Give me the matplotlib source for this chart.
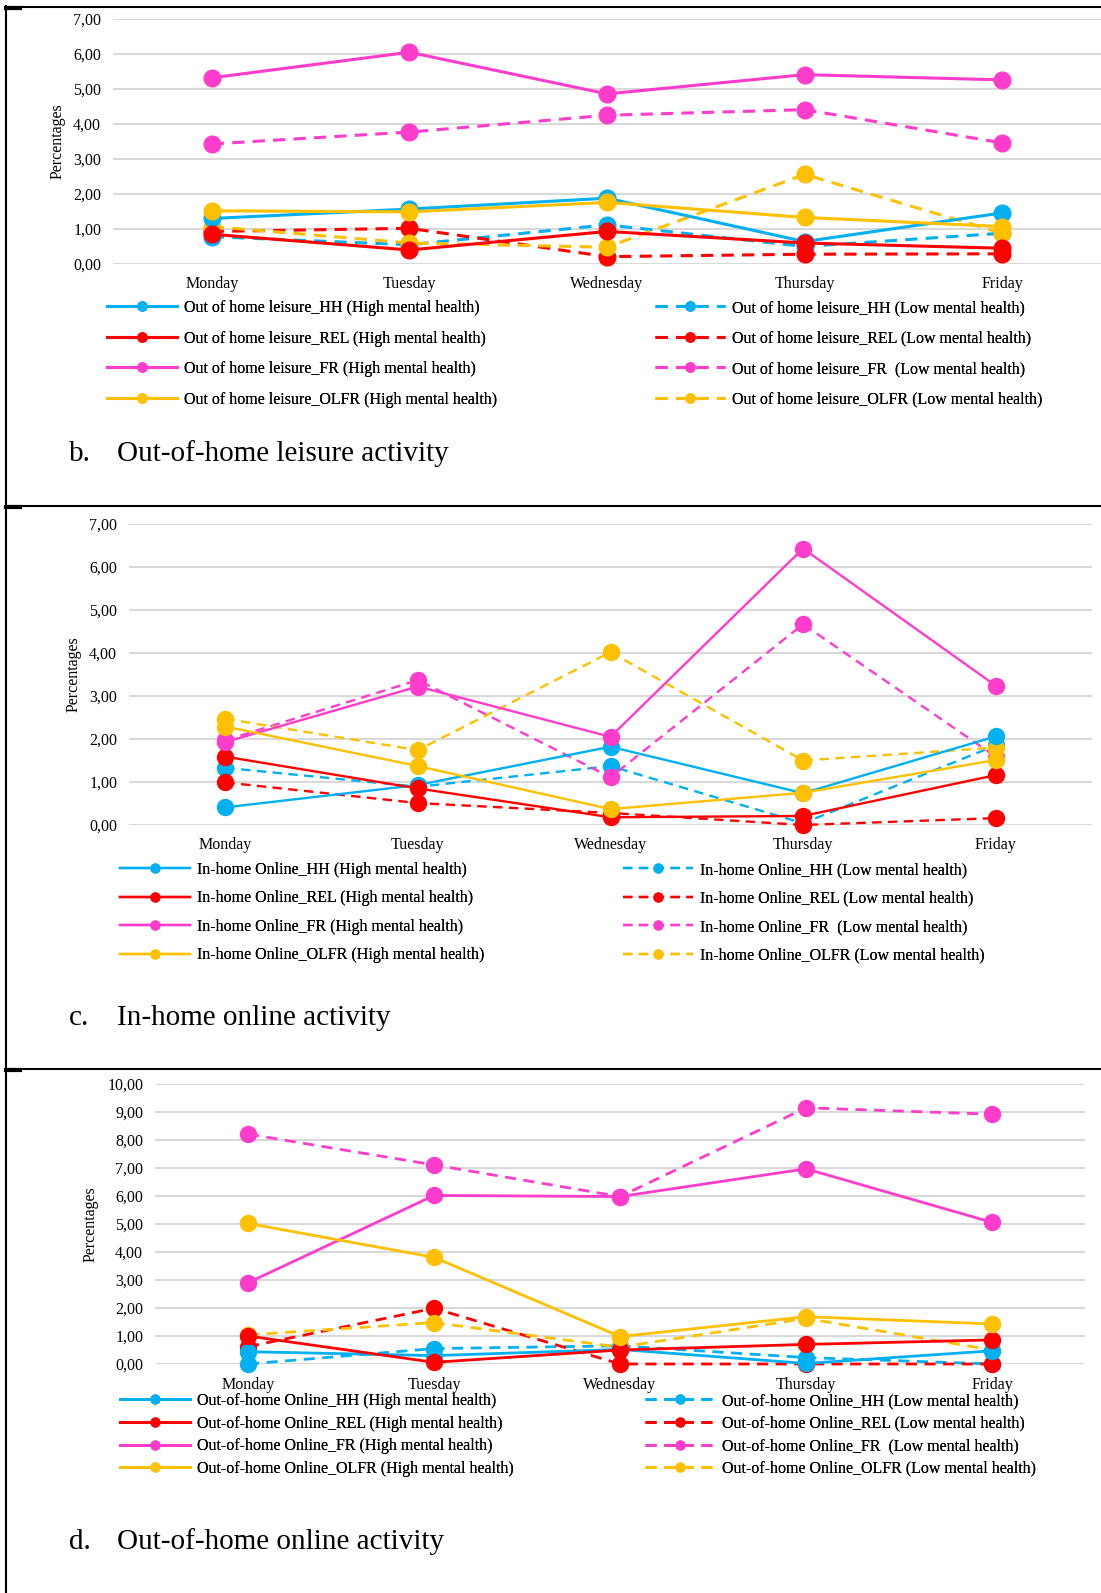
import matplotlib
matplotlib.use("Agg")
import matplotlib.pyplot as plt
from matplotlib.lines import Line2D
from matplotlib.ticker import MultipleLocator, FuncFormatter

plt.rcParams['font.family'] = ['Liberation Serif', 'DejaVu Serif']

W, H = 1101, 1593

days = ["Monday", "Tuesday", "Wednesday", "Thursday", "Friday"]

# b. out-of-home leisure
leis_hh_high = [1.30, 1.57, 1.88, 0.64, 1.46]
leis_rel_high = [0.85, 0.40, 0.93, 0.60, 0.45]
leis_fr_high = [5.32, 6.05, 4.86, 5.41, 5.26]
leis_olfr_high = [1.52, 1.49, 1.76, 1.33, 1.07]
leis_hh_low = [0.78, 0.55, 1.12, 0.50, 0.88]
leis_rel_low = [0.93, 1.02, 0.21, 0.28, 0.29]
leis_fr_low = [3.43, 3.77, 4.25, 4.41, 3.46]
leis_olfr_low = [1.07, 0.60, 0.48, 2.56, 0.88]

# c. in-home online
inon_hh_high = [0.41, 0.93, 1.82, 0.74, 2.06]
inon_rel_high = [1.59, 0.85, 0.18, 0.21, 1.16]
inon_fr_high = [1.93, 3.22, 2.05, 6.43, 3.24]
inon_olfr_high = [2.29, 1.37, 0.37, 0.75, 1.51]
inon_hh_low = [1.33, 0.89, 1.37, 0.04, 1.85]
inon_rel_low = [0.99, 0.51, 0.28, 0.00, 0.16]
inon_fr_low = [1.97, 3.37, 1.11, 4.67, 1.59]
inon_olfr_low = [2.47, 1.74, 4.02, 1.50, 1.80]

# d. out-of-home online
outon_hh_high = [0.44, 0.30, 0.52, 0.02, 0.47]
outon_rel_high = [1.00, 0.06, 0.50, 0.70, 0.86]
outon_fr_high = [2.90, 6.02, 5.98, 6.97, 5.06]
outon_olfr_high = [5.02, 3.81, 0.98, 1.69, 1.43]
outon_hh_low = [0.00, 0.55, 0.65, 0.23, 0.00]
outon_rel_low = [0.62, 1.99, 0.00, 0.00, 0.00]
outon_fr_low = [8.21, 7.11, 5.98, 9.15, 8.92]
outon_olfr_low = [1.04, 1.48, 0.60, 1.63, 0.50]

groups = ["HH", "REL", "FR", "OLFR"]
colors = {"HH": "#00B0F0", "REL": "#FF0000", "FR": "#FF3CCB", "OLFR": "#FFC000"}

FS = 11.5


def px_rect(left, top, right, bottom):
    return [left / W, 1 - bottom / H, (right - left) / W, (bottom - top) / H]


def fmt(v, pos):
    return f"{v:.2f}".replace(".", ",")


def panel(fig, rect, ymax, high, low, prefix, lw, ms, ylab_x, xpad, leg,
          letter, title, title_y):
    ax = fig.add_axes(px_rect(*rect))
    x = range(len(days))
    high_lines, low_lines = [], []
    # low series drawn first, high series on top
    for g, vals in zip(groups, low):
        ln, = ax.plot(x, vals, color=colors[g], lw=lw, ls=(0, (4, 2.7)),
                      marker='o', ms=ms, mec=colors[g], clip_on=False,
                      dash_capstyle='butt', zorder=3)
        low_lines.append(ln)
    for g, vals in zip(groups, high):
        ln, = ax.plot(x, vals, color=colors[g], lw=lw, marker='o', ms=ms,
                      mec=colors[g], clip_on=False, zorder=4)
        high_lines.append(ln)

    ax.set_xlim(-0.5, len(days) - 0.5)
    ax.set_ylim(0, ymax)
    ax.yaxis.set_major_locator(MultipleLocator(1))
    ax.yaxis.set_major_formatter(FuncFormatter(fmt))
    ax.set_xticks(list(x))
    ax.set_xticklabels(days)
    ax.tick_params(axis='y', length=0, pad=8.5, labelsize=FS)
    ax.tick_params(axis='x', length=0, pad=xpad, labelsize=FS)
    ax.grid(axis='y', color='#D9D9D9', lw=1.5)
    ax.set_axisbelow(True)
    for s in ax.spines.values():
        s.set_visible(False)
    ax.text(ylab_x, 0.5, "Percentages", rotation=90, ha='center', va='center',
            fontsize=FS, transform=ax.transAxes)

    left_x, right_x, top_y, spacing = leg
    hi_labels = [f"{prefix}_{g} (High mental health)" for g in groups]
    lo_labels = [f"{prefix}_{g} (Low mental health)" if g != "FR"
                 else f"{prefix}_{g}  (Low mental health)" for g in groups]
    for handles, labels, lx in ((high_lines, hi_labels, left_x),
                                (low_lines, lo_labels, right_x)):
        lg = fig.legend(handles, labels, loc='upper left',
                        bbox_to_anchor=(lx / W, 1 - top_y / H),
                        bbox_transform=fig.transFigure, frameon=False,
                        borderpad=0, borderaxespad=0, handlelength=4.4,
                        handletextpad=0.4, labelspacing=spacing,
                        markerscale=0.55, fontsize=FS, numpoints=1)
        fig.add_artist(lg)

    fig.text(69 / W, 1 - title_y / H, letter, fontsize=21, va='center', ha='left')
    fig.text(117 / W, 1 - title_y / H, title, fontsize=21, va='center', ha='left')
    return ax


fig = plt.figure(figsize=(W / 100, H / 100), dpi=100)

panel(fig, (113, 19, 1101, 264), 7,
      [leis_hh_high, leis_rel_high, leis_fr_high, leis_olfr_high],
      [leis_hh_low, leis_rel_low, leis_fr_low, leis_olfr_low],
      "Out of home leisure", 2.2, 12, -0.056, 8.8,
      (107, 655, 300, 0.91), "b.", "Out-of-home leisure activity", 454)

panel(fig, (129, 524, 1092, 825), 7,
      [inon_hh_high, inon_rel_high, inon_fr_high, inon_olfr_high],
      [inon_hh_low, inon_rel_low, inon_fr_low, inon_olfr_low],
      "In-home Online", 1.7, 11.5, -0.058, 8.8,
      (120, 623, 862, 0.78), "c.", "In-home online activity", 1018)

panel(fig, (155, 1084, 1085, 1364), 10,
      [outon_hh_high, outon_rel_high, outon_fr_high, outon_olfr_high],
      [outon_hh_low, outon_rel_low, outon_fr_low, outon_olfr_low],
      "Out-of-home Online", 2.0, 11.5, -0.069, 9.5,
      (120, 645, 1393, 0.41), "d.", "Out-of-home online activity", 1542)

# page frame and panel separators
frame_kw = dict(color='black', lw=1.5, transform=fig.transFigure)
fig.add_artist(Line2D([6 / W, 6 / W], [0, 1 - 6 / H], **frame_kw))
for yy in (7, 506, 1069):
    fig.add_artist(Line2D([6 / W, 1], [1 - yy / H, 1 - yy / H], **frame_kw))
    fig.add_artist(Line2D([6 / W, 20 / W], [1 - (yy + 1) / H, 1 - (yy + 1) / H],
                          color='black', lw=3, transform=fig.transFigure))

fig.savefig("out.png", dpi=100)
